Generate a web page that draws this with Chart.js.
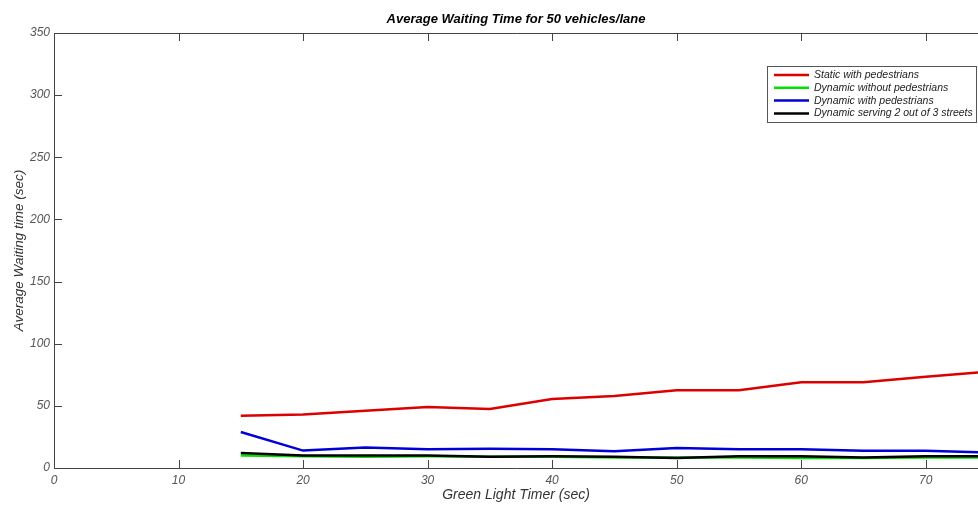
<!DOCTYPE html>
<html lang="en">
<head>
    <meta charset="UTF-8">
    <title>Average Waiting Time for 50 vehicles/lane</title>
    <script src="https://cdn.jsdelivr.net/npm/chart.js"></script>
    <style>
        html, body { margin: 0; padding: 0; background: #fff; }
        #wrap { width: 978px; height: 505px; }
    </style>
</head>
<body>
    <div id="wrap"><canvas id="waitChart" width="978" height="505"></canvas></div>
    <script>
        // data (x = green light timer in sec, y = avg waiting time in sec)
        var timerSec = [15, 20, 25, 30, 35, 40, 45, 50, 55, 60, 65, 70, 75];
        var staticWithPed = [42, 43, 46, 49, 47.5, 55.5, 58, 62.5, 62.5, 69, 69, 73.5, 77.5];
        var dynWithoutPed = [10, 9.5, 9, 9.5, 9, 9, 8.5, 8.5, 8.5, 8, 8, 8.5, 8.5];
        var dynWithPed = [29, 14, 16.5, 15, 15.5, 15, 13.5, 16, 15, 15, 13.8, 13.8, 12.5];
        var dynTwoOfThree = [12, 10, 10, 10, 9, 9.5, 9, 8, 9.5, 9.5, 8.5, 9.5, 9.5];

        var seriesLabels = ['Static with pedestrians', 'Dynamic without pedestrians',
                            'Dynamic with pedestrians', 'Dynamic serving 2 out of 3 streets'];
        var seriesColors = ['rgb(220,0,0)', 'rgb(0,225,0)', 'rgb(0,0,215)', 'rgb(0,0,0)'];
        var xTicks = [0, 10, 20, 30, 40, 50, 60, 70];
        var yTicks = [0, 50, 100, 150, 200, 250, 300, 350];

        var FONT = "'Liberation Sans', Arial, sans-serif";

        function toPoints(ys) {
            return timerSec.map(function (x, i) { return { x: x, y: ys[i] }; });
        }

        // matlab style box + inward ticks
        var axesFrame = {
            id: 'axesFrame',
            afterDatasetsDraw: function (chart) {
                var ctx = chart.ctx, a = chart.chartArea;
                var sx = chart.scales.x, sy = chart.scales.y;
                ctx.save();
                ctx.strokeStyle = '#444';
                ctx.lineWidth = 1;
                ctx.beginPath();
                ctx.moveTo(a.left + 0.5, a.top + 0.5);
                ctx.lineTo(a.right + 2, a.top + 0.5);
                ctx.moveTo(a.left + 0.5, a.top);
                ctx.lineTo(a.left + 0.5, a.bottom + 0.5);
                ctx.lineTo(a.right + 2, a.bottom + 0.5);
                xTicks.forEach(function (v) {
                    var px = Math.round(sx.getPixelForValue(v)) + 0.5;
                    ctx.moveTo(px, a.bottom);
                    ctx.lineTo(px, a.bottom - 8);
                    ctx.moveTo(px, a.top);
                    ctx.lineTo(px, a.top + 8);
                });
                yTicks.forEach(function (v) {
                    var py = Math.round(sy.getPixelForValue(v)) + 0.5;
                    ctx.moveTo(a.left, py);
                    ctx.lineTo(a.left + 8, py);
                });
                ctx.stroke();
                ctx.restore();
            }
        };

        // legend box in upper right, like the original figure
        var boxLegend = {
            id: 'boxLegend',
            afterDraw: function (chart) {
                var ctx = chart.ctx;
                var bx = 767.5, by = 66.5, bw = 209, bh = 56;
                ctx.save();
                ctx.fillStyle = '#fff';
                ctx.fillRect(bx, by, bw, bh);
                ctx.strokeStyle = '#555';
                ctx.lineWidth = 1;
                ctx.strokeRect(bx, by, bw, bh);
                ctx.font = 'italic 10.5px ' + FONT;
                ctx.textBaseline = 'middle';
                seriesLabels.forEach(function (lbl, i) {
                    var y = 75 + i * 12.8;
                    ctx.strokeStyle = seriesColors[i];
                    ctx.lineWidth = 2.5;
                    ctx.beginPath();
                    ctx.moveTo(774, y);
                    ctx.lineTo(809, y);
                    ctx.stroke();
                    ctx.fillStyle = '#222';
                    ctx.fillText(lbl, 814, y);
                });
                ctx.restore();
            }
        };

        var datasetsData = [staticWithPed, dynWithoutPed, dynWithPed, dynTwoOfThree];
        var drawOrder = [1, 2, 1, 0];

        new Chart(document.getElementById('waitChart'), {
            type: 'line',
            data: {
                datasets: datasetsData.map(function (ys, i) {
                    return {
                        label: seriesLabels[i],
                        data: toPoints(ys),
                        borderColor: seriesColors[i],
                        backgroundColor: seriesColors[i],
                        borderWidth: 2.5,
                        pointRadius: 0,
                        tension: 0,
                        fill: false,
                        order: drawOrder[i]
                    };
                })
            },
            options: {
                responsive: false,
                animation: false,
                layout: { padding: 0 },
                plugins: {
                    legend: { display: false },
                    tooltip: { enabled: false },
                    title: {
                        display: true,
                        fullSize: false,
                        text: 'Average Waiting Time for 50 vehicles/lane',
                        color: '#000',
                        font: { family: FONT, size: 13, style: 'italic', weight: 'bold' },
                        padding: { top: 12, bottom: 5.4 }
                    }
                },
                scales: {
                    x: {
                        type: 'linear',
                        min: 0,
                        max: 74.2,
                        afterFit: function (s) { s.height = 37; },
                        afterBuildTicks: function (s) {
                            s.ticks = xTicks.map(function (v) { return { value: v }; });
                        },
                        grid: { display: false, drawTicks: false },
                        border: { display: false },
                        ticks: {
                            includeBounds: false,
                            padding: 5,
                            color: '#555',
                            maxRotation: 0,
                            font: { family: FONT, size: 12, style: 'italic' }
                        },
                        title: {
                            display: true,
                            text: 'Green Light Timer (sec)',
                            color: '#333',
                            font: { family: FONT, size: 14, style: 'italic' },
                            padding: { top: 0, bottom: 1.5 }
                        }
                    },
                    y: {
                        min: 0,
                        max: 350,
                        afterFit: function (s) { s.width = 54; },
                        afterBuildTicks: function (s) {
                            s.ticks = yTicks.map(function (v) { return { value: v }; });
                        },
                        grid: { display: false, drawTicks: false },
                        border: { display: false },
                        ticks: {
                            padding: 4,
                            color: '#555',
                            font: { family: FONT, size: 12, style: 'italic' }
                        },
                        title: {
                            display: true,
                            text: 'Average Waiting time (sec)',
                            color: '#333',
                            font: { family: FONT, size: 13.5, style: 'italic' },
                            padding: { top: 11, bottom: 0 }
                        }
                    }
                }
            },
            plugins: [axesFrame, boxLegend]
        });
    </script>
</body>
</html>
